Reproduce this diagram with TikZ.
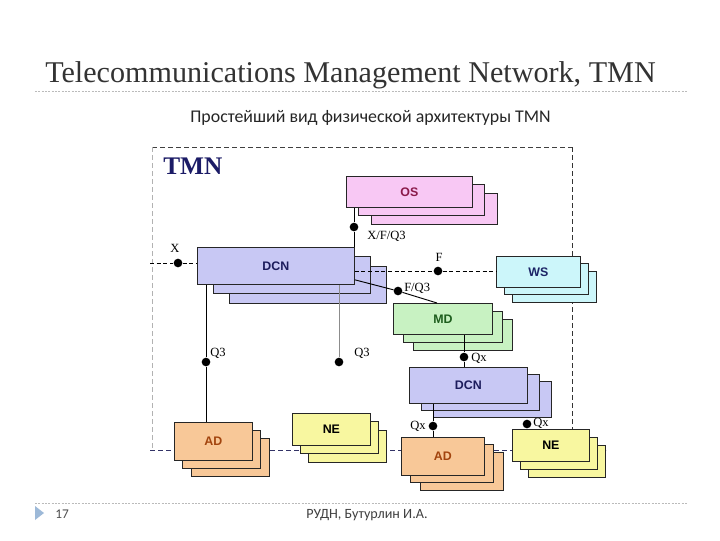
\documentclass[tikz,border=0pt]{standalone}
\usepackage{fontspec}
\setmainfont{Liberation Serif}
\setsansfont{Liberation Sans}
\newfontfamily\carlito{Carlito}
\usetikzlibrary{calc}
\definecolor{ospink}{HTML}{F8C8F4}
\definecolor{ostext}{HTML}{8A1A4A}
\definecolor{dcnfill}{HTML}{C8C8F4}
\definecolor{dcntext}{HTML}{1C1C5C}
\definecolor{wsfill}{HTML}{CCF6FA}
\definecolor{wstext}{HTML}{1C2466}
\definecolor{mdfill}{HTML}{C8F2C2}
\definecolor{mdtext}{HTML}{1E5E1E}
\definecolor{adfill}{HTML}{F8C898}
\definecolor{adtext}{HTML}{A2440E}
\definecolor{nefill}{HTML}{F8F7A0}
\definecolor{tmnnavy}{HTML}{1B1B66}
\definecolor{rulegray}{HTML}{BBBBBB}
\definecolor{bordernavy}{HTML}{333366}
\definecolor{tri}{HTML}{9DB9D8}
\tikzset{
  lay/.style={draw=black!85, line width=0.6pt},
  boxtext/.style={font=\sffamily\bfseries\fontsize{9.3}{10}\selectfont},
  lbl/.style={font=\fontsize{9.4}{10}\selectfont, inner sep=0pt},
  dot/.style={circle, fill=black, inner sep=0pt, minimum size=6.5pt},
  conn/.style={draw=black, line width=0.7pt},
  dashconn/.style={draw=black, line width=0.7pt, dash pattern=on 3pt off 2pt},
  frame/.style={line width=0.7pt, dash pattern=on 3.5pt off 2.5pt},
  sepline/.style={draw=rulegray, line width=0.6pt, dash pattern=on 1.5pt off 1pt}
}
\newcommand{\layeredbox}[9]{%
  \path[lay, fill=#8] ({#2+2*#6},{#3+2*#7}) rectangle ++(#4,#5);
  \path[lay, fill=#8] ({#2+#6},{#3+#7}) rectangle ++(#4,#5);
  \node[lay, fill=#8, anchor=north west, minimum width={#4*0.75pt}, minimum height={#5*0.75pt}, boxtext] (#1) at (#2,#3) {#9};
}
\begin{document}
\begin{tikzpicture}[x=0.75pt,y=-0.75pt]
\useasboundingbox (0,0) rectangle (720,540);
\fill[white] (0,0) rectangle (720,540);
% header
\node[anchor=base west, inner sep=0pt, font=\fontsize{22.6}{24}\selectfont, text=black!80] (title) at (45,82) {Telecommunications Management Network, TMN};
\coordinate (sepL) at (35,91);
\coordinate (sepR) at (688,91);
\draw[sepline] (sepL) -- (sepR);
\node[anchor=base, inner sep=0pt, font=\carlito\fontsize{13.4}{15}\selectfont, text=black!85] (subtitle) at (370.5,122) {Простейший вид физической архитектуры TMN};
% frame
\coordinate (fTL) at (152,147);
\coordinate (fTR) at (572,147);
\coordinate (fBL) at (150,450);
\coordinate (fBR) at (606,450);
\draw[frame, draw=black!75] (fTL) -- (fTR);
\draw[frame, draw=black!30] (fTL) -- (152,448);
\draw[frame, draw=bordernavy] (fBL) -- (fBR);
\node[anchor=base west, inner sep=0pt, font=\bfseries\fontsize{19}{20}\selectfont, text=tmnnavy] (tmn) at (163,174) {TMN};
% boxes
\layeredbox{OS}{346}{176}{126}{31}{12.5}{8.5}{ospink}{\textcolor{ostext}{OS}}
\layeredbox{DCNa}{197}{247}{157}{37}{16}{9.5}{dcnfill}{\textcolor{dcntext}{DCN}}
\layeredbox{NEb}{512}{429}{77}{32}{8}{8}{nefill}{\textcolor{black}{NE}}
\draw[frame, draw=black!80] (fTR) -- (NEb.north -| fTR);
\layeredbox{WS}{496}{256}{84}{31}{8}{7.5}{wsfill}{\textcolor{wstext}{WS}}
\layeredbox{MD}{393}{303}{99}{31}{10}{8}{mdfill}{\textcolor{mdtext}{MD}}
\layeredbox{DCNb}{409}{367}{118}{36}{12}{7}{dcnfill}{\textcolor{dcntext}{DCN}}
\layeredbox{ADa}{174}{422}{78}{38}{8.5}{8}{adfill}{\textcolor{adtext}{AD}}
\layeredbox{NEa}{292}{413}{78}{32}{8}{8.5}{nefill}{\textcolor{black}{NE}}
\layeredbox{ADb}{401}{437}{83}{38}{9.5}{7.5}{adfill}{\textcolor{adtext}{AD}}
% dots
\node[dot] (dXFQ3) at (354,227) {};
\node[dot] (dX) at (178,263) {};
\node[dot] (dF) at (438,271) {};
\node[dot] (dFQ3) at (398,291) {};
\node[dot] (dQ3a) at (206,362) {};
\node[dot] (dQ3b) at (339,362) {};
\node[dot] (dQx1) at (464,357) {};
\node[dot] (dQx2) at (433,426) {};
\node[dot] (dQx3) at (527,424) {};
% labels
\node[lbl, anchor=west] (lXFQ3) at (367,236) {X/F/Q3};
\node[lbl] (lX) at (175,248) {X};
\node[lbl] (lF) at (439,257) {F};
\node[lbl, anchor=west] (lFQ3) at (404,288) {F/Q3};
\node[lbl, anchor=west] (lQ3a) at (210,353) {Q3};
\node[lbl, anchor=west] (lQ3b) at (354,353) {Q3};
\node[lbl, anchor=west] (lQx1) at (471,358) {Qx};
\node[lbl, anchor=east] (lQx2) at (426,426) {Qx};
\node[lbl, anchor=west] (lQx3) at (533,423) {Qx};
% connectors
\coordinate (xL) at (150,263);
\draw[dashconn] (xL) -- (dX) -- (DCNa.west |- dX);
\draw[conn] (OS.south -| dXFQ3) -- (dXFQ3) -- (DCNa.north -| dXFQ3);
\draw[dashconn] (DCNa.east |- dF) -- (dF) -- (WS.west |- dF);
\coordinate (fq3s) at ($(DCNa.south east)+(0,-5)$);
\coordinate (fq3e) at ($(MD.north west)+(44,0)$);
\draw[conn] (fq3s) -- (dFQ3) -- (fq3e);
\draw[conn] (DCNa.south -| dQ3a) -- (dQ3a) -- (ADa.north -| dQ3a);
\draw[draw=black!45, line width=0.5pt] (DCNa.south -| dQ3b) -- (dQ3b);
\draw[conn] (MD.south -| dQx1) -- (dQx1) -- (DCNb.north -| dQx1);
\draw[conn] (DCNb.south -| dQx2) -- (dQx2) -- (ADb.north -| dQx2);
% footer
\coordinate (fsepL) at (35,503);
\coordinate (fsepR) at (688,503);
\draw[sepline] (fsepL) -- (fsepR);
\fill[tri] (35,506) -- (44,513) -- (35,520) -- cycle;
\node[anchor=base west, inner sep=0pt, font=\carlito\fontsize{10}{12}\selectfont, text=black!70] (pg) at (55,518) {17};
\node[anchor=base, inner sep=0pt, font=\carlito\fontsize{10.6}{12}\selectfont, text=black!75] (author) at (367,518) {РУДН, Бутурлин И.А.};
\end{tikzpicture}
\end{document}
